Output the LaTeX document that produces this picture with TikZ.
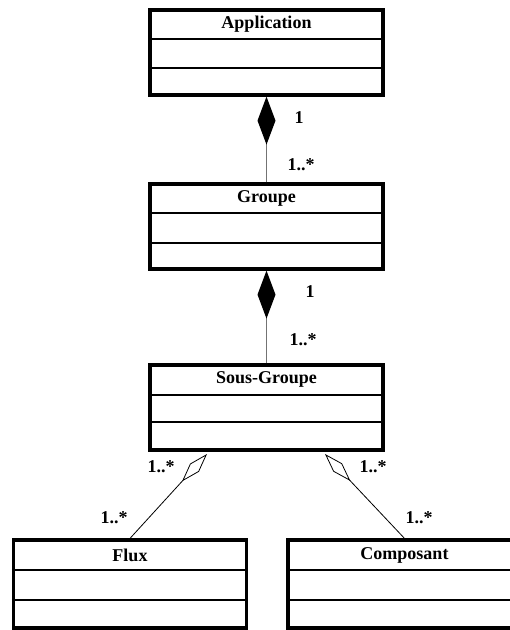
\documentclass[tikz,border=0pt]{standalone}
\usepackage{fontspec}
\setmainfont{Liberation Serif}
\usetikzlibrary{arrows.meta}
\tikzset{
  classbox/.style={draw=black, line width=3.2pt, minimum width=233pt, minimum height=85pt, inner sep=0pt, fill=white},
  classname/.style={font=\fontsize{18}{20}\selectfont\bfseries, inner sep=0pt},
  divider/.style={line width=2.6pt},
  composition/.style={draw=gray!90!black, line width=1.3pt, -{Diamond[length=48pt,width=18pt,black,fill=black]}},
  aggregation/.style={draw=black, line width=0.8pt, -{Diamond[open,length=37pt,width=12pt,black,fill=white]}},
  mult/.style={font=\fontsize{18}{20}\selectfont\bfseries, inner sep=0pt}
}
\begin{document}
\begin{tikzpicture}[x=1pt,y=-1pt]
\useasboundingbox (0,0) rectangle (510,630);
\fill[white] (0,0) rectangle (510,630);

% Application
\node[classbox] (app) at (266.5,52.5) {};
\node[classname] (appname) at (266.5,24.5) {Application};
\draw[divider] (app.west |- 0,39) -- (app.east |- 0,39);
\draw[divider] (app.west |- 0,68) -- (app.east |- 0,68);

% Groupe
\node[classbox] (grp) at (266.5,226.5) {};
\node[classname] (grpname) at (266.5,198) {Groupe};
\draw[divider] (grp.west |- 0,213) -- (grp.east |- 0,213);
\draw[divider] (grp.west |- 0,243) -- (grp.east |- 0,243);

% Sous-Groupe
\node[classbox] (sg) at (266.5,407.5) {};
\node[classname] (sgname) at (266.5,379) {Sous-Groupe};
\draw[divider] (sg.west |- 0,395) -- (sg.east |- 0,395);
\draw[divider] (sg.west |- 0,422) -- (sg.east |- 0,422);

% Flux
\node[classbox, minimum height=88pt] (flux) at (130,584) {};
\node[classname] (fluxname) at (130,555) {Flux};
\draw[divider] (flux.west |- 0,570) -- (flux.east |- 0,570);
\draw[divider] (flux.west |- 0,600) -- (flux.east |- 0,600);

% Composant
\node[classbox, minimum height=88pt] (comp) at (404.5,584) {};
\node[classname] (compname) at (404.5,555) {Composant};
\draw[divider] (comp.west |- 0,570) -- (comp.east |- 0,570);
\draw[divider] (comp.west |- 0,600) -- (comp.east |- 0,600);

% connection points
\coordinate (sgL) at (207,454);
\coordinate (sgR) at (325,454);

% compositions
\draw[composition] (grp.north) -- (app.south);
\draw[composition] (sg.north) -- (grp.south);

% aggregations
\draw[aggregation] (flux.north) -- (sgL);
\draw[aggregation] (comp.north) -- (sgR);

% multiplicities
\node[mult] (m1) at (299,118) {1};
\node[mult] (m2) at (301,165) {1..*};
\node[mult] (m3) at (310,292) {1};
\node[mult] (m4) at (303,340) {1..*};
\node[mult] (m5) at (161,467) {1..*};
\node[mult] (m6) at (114,518) {1..*};
\node[mult] (m7) at (373,467) {1..*};
\node[mult] (m8) at (419,518) {1..*};
\end{tikzpicture}
\end{document}
